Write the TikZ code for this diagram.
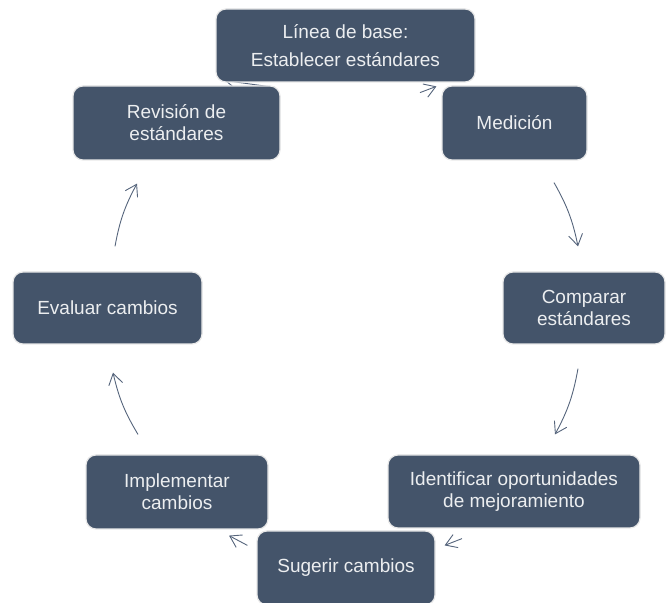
\documentclass[tikz,border=0pt]{standalone}
\usepackage{fontspec}
\setmainfont{Liberation Sans}
\usetikzlibrary{arrows.meta,backgrounds}
\definecolor{boxblue}{HTML}{44546A}
\definecolor{arrowblue}{HTML}{56657C}

\begin{document}
\begin{tikzpicture}[x=1pt,y=1pt,
  paso/.style={draw=gray!18, line width=1.2pt, fill=boxblue, rounded corners=10pt,
    text=white!90!boxblue, align=center, inner sep=0pt, font=\fontsize{19}{22}\selectfont},
  ciclo/.style={draw=arrowblue, line width=0.9pt, -{Straight Barb[length=11pt,width=14pt]}, bend left=9}]
\useasboundingbox (0,0) rectangle (670,603);
\node[paso, minimum width=259pt, minimum height=73pt] (linea) at (345.5,557.5) {Línea de base:\\[6pt]Establecer estándares};
\node[paso, minimum width=145pt, minimum height=74pt] (medicion) at (514.5,480) {Medición};
\node[paso, minimum width=162pt, minimum height=72pt] (comparar) at (584,295) {Comparar\\estándares};
\node[paso, minimum width=252pt, minimum height=73pt] (identificar) at (514,111.5) {Identificar oportunidades\\de mejoramiento};
\node[paso, minimum width=178pt, minimum height=74pt] (sugerir) at (346,35) {Sugerir cambios};
\node[paso, minimum width=182pt, minimum height=74pt] (implementar) at (177,111) {Implementar\\cambios};
\node[paso, minimum width=189pt, minimum height=72pt] (evaluar) at (107.5,295) {Evaluar cambios};
\node[paso, minimum width=207pt, minimum height=74pt] (revision) at (176.5,480) {Revisión de\\estándares};
\begin{scope}[on background layer]
\draw[ciclo] ([shift={(74.5,-10)}]linea.south) -- ([shift={(-5,-1)}]medicion.north west);
\draw[ciclo] ([shift={(39.5,-22)}]medicion.south) to ([shift={(-6,25)}]comparar.north);
\draw[ciclo] ([shift={(-6,-24)}]comparar.south) to ([shift={(41,20)}]identificar.north);
\draw[ciclo] ([shift={(-52,-10)}]identificar.south) -- ([shift={(9,-15)}]sugerir.north east);
\draw[ciclo] ([shift={(-9,-15)}]sugerir.north west) -- ([shift={(52,-6)}]implementar.south);
\draw[ciclo] ([shift={(-39,20)}]implementar.north) to ([shift={(5.5,-28)}]evaluar.south);
\draw[ciclo] ([shift={(7.5,25)}]evaluar.north) to ([shift={(-39.5,-23)}]revision.south);
\draw[ciclo] ([shift={(98.5,-2)}]revision.north) -- ([shift={(-120.5,2)}]linea.south);
\end{scope}
\end{tikzpicture}
\end{document}
